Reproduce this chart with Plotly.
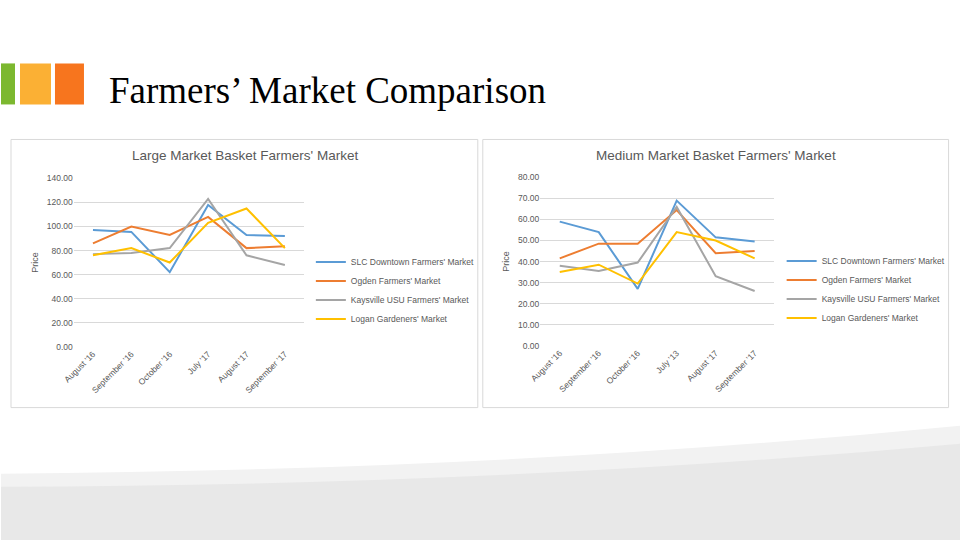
import plotly.graph_objects as go

months = ["August '16", "September '16", "October '16", "July '17", "August '17", "September '17"]
months_m = ["August '16", "September '16", "October '16", "July '13", "August '17", "September '17"]
series_names = ["SLC Downtown Farmers' Market", "Ogden Farmers' Market",
                "Kaysville USU Farmers' Market", "Logan Gardeners' Market"]
large_slc = [97, 95.5, 62, 118, 93, 92]
large_ogden = [86, 100, 93, 108, 82, 83.5]
large_kays = [77, 78, 82, 123, 76, 68]
large_logan = [76, 82, 70, 103, 115, 82]
med_slc = [59, 54, 27, 69, 51.5, 49.5]
med_ogden = [41.5, 48.5, 48.5, 64.5, 44, 45]
med_kays = [38, 35.5, 39.5, 66, 33, 26]
med_logan = [35, 38.5, 29.5, 54, 50, 41.5]
colors = ["#5B9BD5", "#ED7D31", "#A5A5A5", "#FFC000"]

W, H = 960, 540
# compensation for the observed rendering offset/scale
def px(x): return ((x - 10) / 0.989) / W
def py(y): return 1 - ((y - 4.6) / 0.981) / H

fig = go.Figure()
for i, ys in enumerate([large_slc, large_ogden, large_kays, large_logan]):
    fig.add_trace(go.Scatter(x=list(range(6)), y=ys, mode="lines", name=series_names[i],
                             line=dict(color=colors[i], width=2), xaxis="x", yaxis="y", legend="legend"))
for i, ys in enumerate([med_slc, med_ogden, med_kays, med_logan]):
    fig.add_trace(go.Scatter(x=list(range(6)), y=ys, mode="lines", name=series_names[i],
                             line=dict(color=colors[i], width=2), xaxis="x2", yaxis="y2", legend="legend2"))

tickf = dict(size=8.5, color="#595959", family="Liberation Sans")
common_x = dict(range=[-0.5, 5.5], tickmode="array", tickvals=list(range(6)), tickangle=-45,
                showgrid=False, zeroline=False, showline=False, tickfont=tickf, fixedrange=True)
common_y = dict(showgrid=True, gridcolor="#D9D9D9", zeroline=False, tickfont=tickf, tickformat=".2f",
                title=dict(text="Price", font=dict(size=9, color="#595959", family="Liberation Sans"), standoff=6))

shapes = []
for x0, x1 in [(10, 477), (482, 948)]:
    shapes.append(dict(type="rect", xref="paper", yref="paper", x0=px(x0), x1=px(x1), y0=py(407), y1=py(139),
                       line=dict(color="#D9D9D9", width=1), fillcolor="white", layer="below"))
for x0, x1, c in [(0, 14, "#7CB82F"), (19, 50, "#FBB034"), (54, 83, "#F7751E")]:
    shapes.append(dict(type="rect", xref="paper", yref="paper", x0=px(x0), x1=px(x1), y0=py(104), y1=py(63),
                       line=dict(width=0), fillcolor=c, layer="below"))
shapes.append(dict(type="path", xref="paper", yref="paper",
                   path=f"M {px(0)} {py(473)} Q {px(500)} {py(470)} {px(960)} {py(425)} L {px(960)} {py(545)} L {px(0)} {py(545)} Z",
                   fillcolor="#F2F2F2", line=dict(width=0), layer="below"))
shapes.append(dict(type="path", xref="paper", yref="paper",
                   path=f"M {px(0)} {py(486)} Q {px(500)} {py(485)} {px(960)} {py(443)} L {px(960)} {py(545)} L {px(0)} {py(545)} Z",
                   fillcolor="#E8E8E8", line=dict(width=0), layer="below"))

legf = dict(size=8.5, color="#595959", family="Liberation Sans")
fig.update_layout(
    width=W, height=H, margin=dict(l=0, r=0, t=0, b=0),
    paper_bgcolor="white", plot_bgcolor="rgba(0,0,0,0)",
    xaxis=dict(domain=[px(72.8), px(303.2)], ticktext=months, anchor="y", **common_x),
    yaxis=dict(domain=[py(346), py(178)], range=[0, 140], dtick=20, anchor="x", **common_y),
    xaxis2=dict(domain=[px(539.5), px(773.5)], ticktext=months_m, anchor="y2", **common_x),
    yaxis2=dict(domain=[py(345), py(177)], range=[0, 80], dtick=10, anchor="x2", **common_y),
    legend=dict(x=px(310), y=py(247), xanchor="left", yanchor="top", font=legf, bgcolor="rgba(0,0,0,0)",
                tracegroupgap=0, itemwidth=30),
    legend2=dict(x=px(781), y=py(246), xanchor="left", yanchor="top", font=legf, bgcolor="rgba(0,0,0,0)",
                 tracegroupgap=0, itemwidth=30),
    shapes=shapes,
    annotations=[
        dict(text="Farmers’ Market Comparison", x=px(106), y=py(90), xref="paper", yref="paper",
             xanchor="left", yanchor="middle", showarrow=False,
             font=dict(size=37, family="Liberation Serif", color="#000000")),
        dict(text="Large Market Basket Farmers' Market", x=px(244), y=py(155), xref="paper", yref="paper",
             xanchor="center", yanchor="middle",
             showarrow=False, font=dict(size=13.5, family="Liberation Sans", color="#595959")),
        dict(text="Medium Market Basket Farmers' Market", x=px(715), y=py(155), xref="paper", yref="paper",
             xanchor="center", yanchor="middle",
             showarrow=False, font=dict(size=13.5, family="Liberation Sans", color="#595959")),
    ],
    showlegend=True,
)
fig.write_html("out.html", config={"displayModeBar": False},
               post_script="document.documentElement.style.margin='0';document.documentElement.style.overflow='hidden';"
                           "document.body.style.margin='0';document.body.style.padding='0';document.body.style.overflow='hidden';")
